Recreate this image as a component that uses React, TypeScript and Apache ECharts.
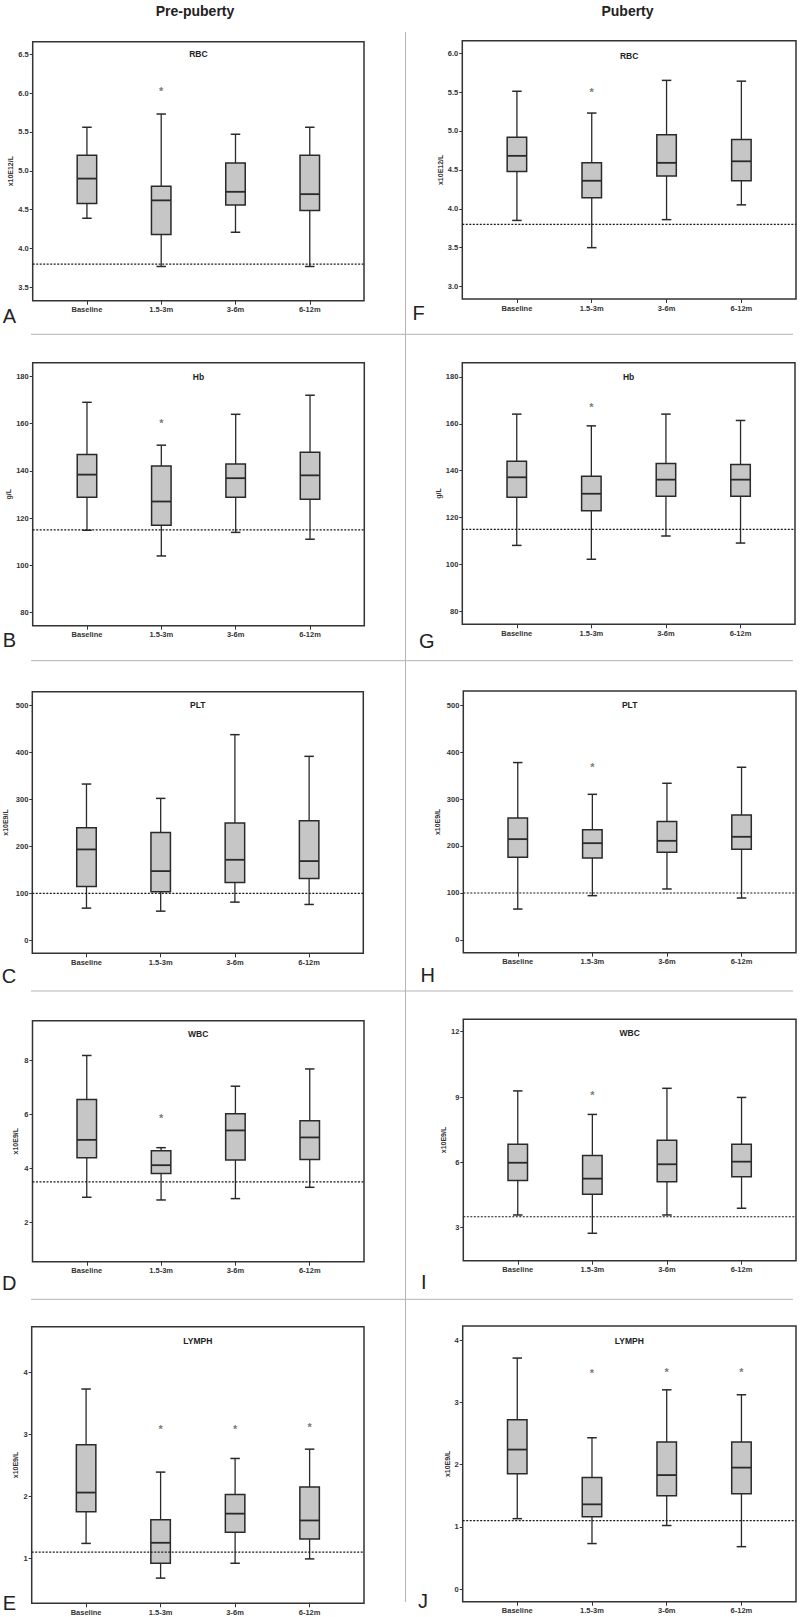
import React, { useEffect, useRef } from 'react';
import * as echarts from 'echarts';

const categories = ['Baseline', '1.5-3m', '3-6m', '6-12m'];

// Each box: [min, Q1, median, Q3, max]
const rbcPre = [[4.39, 4.58, 4.90, 5.20, 5.56], [3.77, 4.18, 4.62, 4.80, 5.73], [4.21, 4.56, 4.73, 5.10, 5.47], [3.77, 4.49, 4.70, 5.20, 5.56]];
const rbcPreOutliers = [[1, 6.06]];
const rbcPuberty = [[3.85, 4.48, 4.68, 4.92, 5.51], [3.50, 4.14, 4.36, 4.59, 5.23], [3.86, 4.42, 4.59, 4.95, 5.65], [4.05, 4.36, 4.61, 4.89, 5.64]];
const rbcPubertyOutliers = [[1, 5.53]];
const hbPre = [[114.8, 128.8, 138.4, 146.9, 169.1], [103.9, 116.9, 127.0, 142.1, 150.9], [113.9, 128.8, 136.9, 142.9, 164.0], [111.0, 128.0, 138.1, 147.9, 172.1]];
const hbPreOutliers = [[1, 161.5]];
const hbPuberty = [[108.2, 128.7, 137.2, 144.0, 164.1], [102.3, 123.0, 130.2, 137.6, 159.1], [112.2, 129.1, 136.2, 143.1, 164.1], [109.2, 129.1, 136.2, 142.7, 161.4]];
const hbPubertyOutliers = [[1, 168.4]];
const pltPre = [[68.8, 114.9, 193.6, 239.7, 332.6], [62.4, 103.5, 147.5, 229.8, 302.1], [81.6, 123.4, 171.6, 249.6, 437.6], [76.6, 131.9, 168.8, 254.6, 391.5]];
const pltPreOutliers: number[][] = [];
const pltPuberty = [[65.8, 176.2, 214.6, 259.4, 377.6], [94.3, 174.7, 206.0, 234.5, 310.0], [108.5, 186.8, 211.0, 252.3, 333.5], [89.3, 193.2, 219.6, 265.8, 367.6]];
const pltPubertyOutliers = [[1, 372.6]];
const wbcPre = [[2.93, 4.40, 5.06, 6.56, 8.19], [2.83, 3.81, 4.12, 4.66, 4.77], [2.88, 4.31, 5.41, 6.03, 7.05], [3.30, 4.33, 5.15, 5.77, 7.69]];
const wbcPreOutliers = [[1, 5.96]];
const wbcPuberty = [[3.58, 5.16, 5.98, 6.83, 9.28], [2.74, 4.53, 5.25, 6.31, 8.20], [3.58, 5.11, 5.91, 7.01, 9.40], [3.89, 5.34, 6.03, 6.83, 8.98]];
const wbcPubertyOutliers = [[1, 9.23]];
const lymphPre = [[1.24, 1.75, 2.06, 2.83, 3.73], [0.68, 0.92, 1.25, 1.62, 2.39], [0.92, 1.42, 1.72, 2.03, 2.61], [0.99, 1.31, 1.61, 2.15, 2.76]];
const lymphPreOutliers = [[1, 3.12], [2, 3.13], [3, 3.15]];
const lymphPuberty = [[1.13, 1.85, 2.24, 2.72, 3.71], [0.73, 1.16, 1.36, 1.79, 2.43], [1.02, 1.50, 1.83, 2.36, 3.20], [0.68, 1.53, 1.95, 2.36, 3.12]];
const lymphPubertyOutliers = [[1, 3.51], [2, 3.53], [3, 3.52]];

// Reference (lower normal limit) lines
const rbcRef = 3.8;
const hbRef = 115;
const pltRef = 100;
const wbcRef = 3.5;
const lymphRef = 1.1;

// Tick labels
const rbcPreTicks = [3.5, 4, 4.5, 5, 5.5, 6, 6.5];
const rbcPubertyTicks = [3, 3.5, 4, 4.5, 5, 5.5, 6];
const hbTicks = [80, 100, 120, 140, 160, 180];
const pltTicks = [0, 100, 200, 300, 400, 500];
const wbcPreTicks = [2, 4, 6, 8];
const wbcPubertyTicks = [3, 6, 9, 12];
const lymphPreTicks = [1, 2, 3, 4];
const lymphPubertyTicks = [0, 1, 2, 3, 4];

const columnTitles = ['Pre-puberty', 'Puberty'];

const FONT = "'Liberation Sans', Arial, Helvetica, sans-serif";
const X_MIN = -0.73;
const X_MAX = 3.73;
const CAT_POS = [0, 1, 2, 3];

type Panel = {
  letter: string; title: string; unit: string; dec: number;
  box: number[][]; out: number[][]; ref: number; ticks: number[];
  grid: number[]; range: number[]; nameGap: number; titleY: number; letterPos: number[];
};

const panels: Panel[] = [
  { letter: 'A', title: 'RBC', unit: 'x10E12/L', dec: 1, box: rbcPre, out: rbcPreOutliers, ref: rbcRef, ticks: rbcPreTicks, grid: [32.7, 41.7, 331.3, 259], range: [3.33, 6.66], nameGap: 17.5, titleY: 54, letterPos: [2.7, 315.5] },
  { letter: 'B', title: 'Hb', unit: 'g/L', dec: 0, box: hbPre, out: hbPreOutliers, ref: hbRef, ticks: hbTicks, grid: [32.7, 362.7, 331.6, 263], range: [74.3, 185.9], nameGap: 17.5, titleY: 377.3, letterPos: [2.7, 640] },
  { letter: 'C', title: 'PLT', unit: 'x10E9/L', dec: 0, box: pltPre, out: pltPreOutliers, ref: pltRef, ticks: pltTicks, grid: [32.3, 691.7, 331, 261.6], range: [-27.2, 528.9], nameGap: 23.8, titleY: 705.3, letterPos: [1.7, 975.5] },
  { letter: 'D', title: 'WBC', unit: 'x10E9/L', dec: 0, box: wbcPre, out: wbcPreOutliers, ref: wbcRef, ticks: wbcPreTicks, grid: [32.5, 1020.7, 331.5, 241], range: [0.54, 9.48], nameGap: 13.7, titleY: 1034, letterPos: [2, 1282.5] },
  { letter: 'E', title: 'LYMPH', unit: 'x10E9/L', dec: 0, box: lymphPre, out: lymphPreOutliers, ref: lymphRef, ticks: lymphPreTicks, grid: [31.7, 1326.7, 332.3, 276.6], range: [0.274, 4.735], nameGap: 12.9, titleY: 1340.7, letterPos: [2.7, 1602.5] },
  { letter: 'F', title: 'RBC', unit: 'x10E12/L', dec: 1, box: rbcPuberty, out: rbcPubertyOutliers, ref: rbcRef, ticks: rbcPubertyTicks, grid: [462.3, 40.7, 333.7, 258.3], range: [2.84, 6.16], nameGap: 18.8, titleY: 56, letterPos: [412.5, 313] },
  { letter: 'G', title: 'Hb', unit: 'g/L', dec: 0, box: hbPuberty, out: hbPubertyOutliers, ref: hbRef, ticks: hbTicks, grid: [462.3, 362.7, 332.7, 261.6], range: [74.6, 186], nameGap: 20.5, titleY: 376.7, letterPos: [419, 641] },
  { letter: 'H', title: 'PLT', unit: 'x10E9/L', dec: 0, box: pltPuberty, out: pltPubertyOutliers, ref: pltRef, ticks: pltTicks, grid: [463.3, 691, 332.7, 261.7], range: [-27.1, 529.9], nameGap: 22.3, titleY: 705.3, letterPos: [420.5, 974.5] },
  { letter: 'I', title: 'WBC', unit: 'x10E9/L', dec: 0, box: wbcPuberty, out: wbcPubertyOutliers, ref: wbcRef, ticks: wbcPubertyTicks, grid: [463.3, 1019.3, 332.7, 241.4], range: [1.48, 12.57], nameGap: 12.3, titleY: 1033.3, letterPos: [421, 1282] },
  { letter: 'J', title: 'LYMPH', unit: 'x10E9/L', dec: 0, box: lymphPuberty, out: lymphPubertyOutliers, ref: lymphRef, ticks: lymphPubertyTicks, grid: [462.7, 1326, 333.3, 275.7], range: [-0.204, 4.225], nameGap: 11.4, titleY: 1340.7, letterPos: [418, 1601] },
];

const INK = '#2a2a2a';

function renderBox(params: any, api: any) {
  const x = api.value(0);
  const pLo = api.coord([x, api.value(1)]);
  const pQ1 = api.coord([x, api.value(2)]);
  const pMed = api.coord([x, api.value(3)]);
  const pQ3 = api.coord([x, api.value(4)]);
  const pHi = api.coord([x, api.value(5)]);
  const cx = pLo[0];
  const bw = 19.5;
  const cw = 9.5;
  return {
    type: 'group',
    children: [
      { type: 'line', shape: { x1: cx, y1: pHi[1], x2: cx, y2: pQ3[1] }, style: { stroke: INK, lineWidth: 1.3 } },
      { type: 'line', shape: { x1: cx, y1: pQ1[1], x2: cx, y2: pLo[1] }, style: { stroke: INK, lineWidth: 1.3 } },
      { type: 'line', shape: { x1: cx - cw / 2, y1: pHi[1], x2: cx + cw / 2, y2: pHi[1] }, style: { stroke: INK, lineWidth: 1.5 } },
      { type: 'line', shape: { x1: cx - cw / 2, y1: pLo[1], x2: cx + cw / 2, y2: pLo[1] }, style: { stroke: INK, lineWidth: 1.5 } },
      { type: 'rect', shape: { x: cx - bw / 2, y: pQ3[1], width: bw, height: pQ1[1] - pQ3[1] }, style: { fill: '#c6c6c6', stroke: INK, lineWidth: 1.5 } },
      { type: 'line', shape: { x1: cx - bw / 2, y1: pMed[1], x2: cx + bw / 2, y2: pMed[1] }, style: { stroke: INK, lineWidth: 1.8 } },
    ],
  };
}

function textEl(text: string, x: number, y: number, size: number, weight: string, align: string) {
  return {
    type: 'text', x, y, silent: true,
    style: {
      text, fill: '#222', fontSize: size, fontWeight: weight, fontFamily: FONT,
      align, verticalAlign: 'middle', textAlign: align, textVerticalAlign: 'middle',
    },
  };
}

function lineEl(x1: number, y1: number, x2: number, y2: number) {
  return { type: 'line', silent: true, shape: { x1, y1, x2, y2 }, style: { stroke: '#b3b3b3', lineWidth: 1 } };
}

function buildOption() {
  const grid: any[] = [];
  const xAxis: any[] = [];
  const yAxis: any[] = [];
  const series: any[] = [];
  const graphic: any[] = [];

  panels.forEach((p, i) => {
    const [l, t, w, h] = p.grid;
    grid.push({ left: l, top: t, width: w, height: h, show: true, borderColor: '#333', borderWidth: 1.5, backgroundColor: 'transparent', containLabel: false, outerBoundsMode: 'none' });
    xAxis.push({
      type: 'value', gridIndex: i, min: X_MIN, max: X_MAX, position: 'bottom',
      axisLine: { show: false, onZero: false }, splitLine: { show: false },
      axisTick: { show: true, customValues: CAT_POS, length: 4, lineStyle: { color: '#333', width: 1 } },
      axisLabel: { customValues: CAT_POS, formatter: (v: number) => categories[Math.round(v)] ?? '', fontSize: 7.5, fontWeight: 'bold', color: '#333', fontFamily: FONT, margin: 5 },
    });
    yAxis.push({
      type: 'value', gridIndex: i, min: p.range[0], max: p.range[1], position: 'left',
      axisLine: { show: false, onZero: false }, splitLine: { show: false },
      axisTick: { show: true, customValues: p.ticks, length: 3, lineStyle: { color: '#333', width: 1 } },
      axisLabel: { customValues: p.ticks, formatter: (v: number) => (p.dec ? v.toFixed(p.dec) : String(Math.round(v))), fontSize: 7.5, fontWeight: 'bold', color: '#333', fontFamily: FONT, margin: 4 },
      name: p.unit, nameLocation: 'middle', nameGap: p.nameGap,
      nameTextStyle: { fontSize: 7, fontWeight: 'bold', color: '#333', fontFamily: FONT },
    });
    series.push({
      type: 'custom', xAxisIndex: i, yAxisIndex: i, z: 2, silent: true,
      data: p.box.map((b, k) => [CAT_POS[k], ...b]),
      encode: { x: 0, y: [1, 2, 3, 4, 5] },
      renderItem: renderBox,
    });
    series.push({
      type: 'line', xAxisIndex: i, yAxisIndex: i, z: 3, silent: true, symbol: 'none',
      data: [[X_MIN, p.ref], [X_MAX, p.ref]],
      lineStyle: { color: '#1a1a1a', width: 1.2, type: [2, 1.5] },
    });
    if (p.out.length) {
      series.push({
        type: 'scatter', xAxisIndex: i, yAxisIndex: i, z: 4, silent: true,
        data: p.out, symbolSize: 1, itemStyle: { color: 'rgba(0,0,0,0)' },
        label: { show: true, formatter: '*', position: 'inside', fontSize: 11, fontWeight: 'bold', color: '#555', fontFamily: FONT, offset: [0, 2.5] },
      });
    }
    graphic.push(textEl(p.title, l + w / 2, p.titleY, 8.5, 'bold', 'center'));
    graphic.push(textEl(p.letter, p.letterPos[0], p.letterPos[1], 20, 'normal', 'left'));
  });

  graphic.push(textEl(columnTitles[0], 195, 11, 14, 'bold', 'center'));
  graphic.push(textEl(columnTitles[1], 627.5, 11, 14, 'bold', 'center'));
  graphic.push(lineEl(405.5, 32, 405.5, 1602));
  [334.3, 660.7, 991, 1299.3].forEach((y) => {
    graphic.push(lineEl(31, y, 405.5, y));
    graphic.push(lineEl(405.5, y, 793, y));
  });

  return { animation: false, backgroundColor: '#fff', grid, xAxis, yAxis, series, graphic };
}

export default function App() {
  const ref = useRef<HTMLDivElement>(null);
  useEffect(() => {
    const chart = echarts.init(ref.current!, null, { renderer: 'svg' });
    chart.setOption(buildOption() as any);
    return () => chart.dispose();
  }, []);
  return <div ref={ref} style={{ position: 'absolute', left: 0, top: 0, width: 800, height: 1617, background: '#fff' }} />;
}
